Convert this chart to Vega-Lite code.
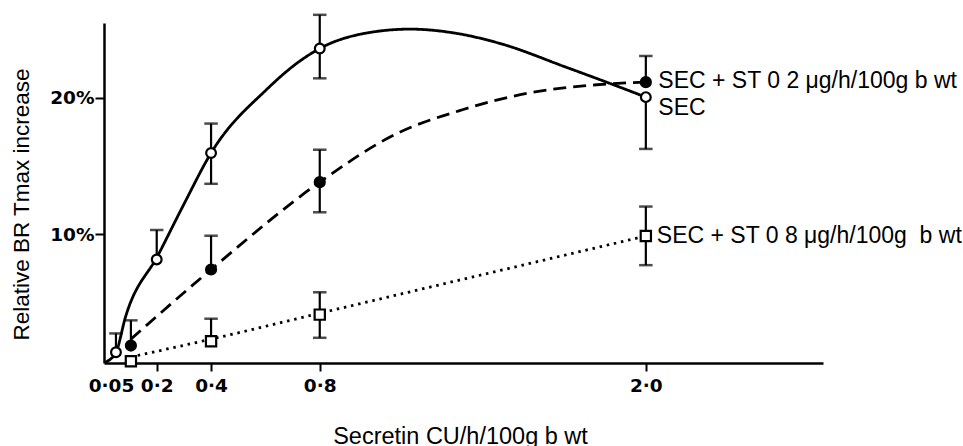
{
  "$schema": "https://vega.github.io/schema/vega-lite/v6.json",
  "width": 719,
  "height": 340,
  "padding": {"left": 104, "top": 23, "right": 140, "bottom": 83},
  "autosize": {"type": "none"},
  "background": "white",
  "config": {
    "view": {"stroke": null},
    "font": "Liberation Sans",
    "axis": {"grid": false, "domainColor": "black", "tickColor": "black", "labelColor": "black", "titleColor": "black", "labelFont": "DejaVu Sans", "titleFont": "Liberation Sans"}
  },
  "datasets": {
    "curves": [
      {"series": "SEC", "dose": 0.01, "value": 0.6},
      {"series": "SEC", "dose": 0.05, "value": 1.34},
      {"series": "SEC", "dose": 0.085, "value": 3.92},
      {"series": "SEC", "dose": 0.206, "value": 8.5},
      {"series": "SEC", "dose": 0.3, "value": 12.2},
      {"series": "SEC", "dose": 0.4, "value": 15.96},
      {"series": "SEC", "dose": 0.605, "value": 20.63},
      {"series": "SEC", "dose": 0.727, "value": 22.71},
      {"series": "SEC", "dose": 0.8, "value": 23.63},
      {"series": "SEC", "dose": 0.95, "value": 24.68},
      {"series": "SEC", "dose": 1.132, "value": 25.05},
      {"series": "SEC", "dose": 1.3, "value": 24.75},
      {"series": "SEC", "dose": 1.463, "value": 24.0},
      {"series": "SEC", "dose": 1.71, "value": 22.23},
      {"series": "SEC", "dose": 1.894, "value": 20.87},
      {"series": "SEC", "dose": 2.0, "value": 20.06},
      {"series": "ST02", "dose": 0.105, "value": 2.3},
      {"series": "ST02", "dose": 0.4, "value": 7.41},
      {"series": "ST02", "dose": 0.8, "value": 13.82},
      {"series": "ST02", "dose": 1.083, "value": 17.38},
      {"series": "ST02", "dose": 1.328, "value": 19.15},
      {"series": "ST02", "dose": 1.574, "value": 20.38},
      {"series": "ST02", "dose": 1.819, "value": 20.97},
      {"series": "ST02", "dose": 2.0, "value": 21.16},
      {"series": "ST08", "dose": 0.13, "value": 1.1},
      {"series": "ST08", "dose": 0.4, "value": 2.3},
      {"series": "ST08", "dose": 0.8, "value": 4.2},
      {"series": "ST08", "dose": 2.0, "value": 9.87}
    ],
    "points": [
      {"series": "SEC", "dose": 0.05, "value": 1.34, "hi": 2.72, "lo": null},
      {"series": "SEC", "dose": 0.2, "value": 8.15, "hi": 10.31, "lo": null},
      {"series": "SEC", "dose": 0.4, "value": 15.96, "hi": 18.12, "lo": 13.7},
      {"series": "SEC", "dose": 0.8, "value": 23.63, "hi": 26.1, "lo": 21.44},
      {"series": "SEC", "dose": 2.0, "value": 20.06, "hi": null, "lo": 16.26},
      {"series": "ST02", "dose": 0.105, "value": 1.83, "hi": 3.68, "lo": null},
      {"series": "ST02", "dose": 0.4, "value": 7.41, "hi": 9.89, "lo": null},
      {"series": "ST02", "dose": 0.8, "value": 13.82, "hi": 16.2, "lo": 11.61},
      {"series": "ST02", "dose": 2.0, "value": 21.16, "hi": 23.08, "lo": null},
      {"series": "ST08", "dose": 0.105, "value": 0.68, "hi": null, "lo": null},
      {"series": "ST08", "dose": 0.4, "value": 2.15, "hi": 3.8, "lo": null},
      {"series": "ST08", "dose": 0.8, "value": 4.1, "hi": 5.74, "lo": 2.4},
      {"series": "ST08", "dose": 2.0, "value": 9.87, "hi": 12.03, "lo": 7.73}
    ],
    "labels": [
      {"series": "ST02", "dose": 2.0, "value": 21.16, "label": "SEC + ST 0 2 μg/h/100g b wt"},
      {"series": "SEC", "dose": 2.0, "value": 20.06, "label": "SEC"},
      {"series": "ST08", "dose": 2.0, "value": 9.87, "label": "SEC + ST 0 8 μg/h/100g\u00a0 b wt"}
    ]
  },
  "encoding": {
    "x": {
      "field": "dose", "type": "quantitative",
      "scale": {"domain": [0.006, 2.652], "nice": false, "zero": false},
      "axis": {
        "values": [0.05, 0.2, 0.4, 0.8, 2.0],
        "labelExpr": "datum.value == 0.05 ? '0·05' : replace(format(datum.value, '.1f'), '.', '·')",
        "labelFontSize": 18.5, "labelFontWeight": "bold",
        "labelOverlap": false, "labelFlush": false,
        "labelOffset": {"condition": {"test": "datum.value == 0.05", "value": -5}, "value": 0},
        "tickOpacity": {"condition": {"test": "datum.value == 0.05", "value": 0}, "value": 1},
        "tickSize": 8, "tickWidth": 2, "labelPadding": 5,
        "domainWidth": 2.5,
        "title": "Secretin CU/h/100g b wt",
        "titleFontSize": 23.5, "titleFontWeight": "normal",
        "titleX": 356, "titleY": 80, "titleBaseline": "alphabetic", "titleAlign": "center"
      }
    },
    "y": {
      "field": "value", "type": "quantitative",
      "scale": {"domain": [0.55, 25.5], "nice": false, "zero": false},
      "axis": {
        "values": [10, 20],
        "labelExpr": "datum.value + '%'",
        "labelFontSize": 18.5, "labelFontWeight": "bold",
        "tickSize": 9, "tickWidth": 2, "labelPadding": 1,
        "domainWidth": 2.5,
        "title": "Relative BR Tmax increase",
        "titleFontSize": 22.5, "titleFontWeight": "normal",
        "titleX": -93.7, "titleY": 181, "titleBaseline": "top", "titleAlign": "center", "titleAngle": 270
      }
    }
  },
  "layer": [
    {
      "data": {"name": "curves"},
      "mark": {"type": "line", "interpolate": "monotone", "strokeWidth": 2.8, "color": "black"},
      "encoding": {
        "detail": {"field": "series"},
        "strokeDash": {"field": "series", "type": "nominal", "scale": {"domain": ["SEC", "ST02", "ST08"], "range": [[1, 0], [13, 7], [2.5, 4.8]]}, "legend": null}
      }
    },
    {
      "data": {"name": "points"},
      "mark": {"type": "rule", "strokeWidth": 2.2, "color": "black"},
      "encoding": {"y": {"field": "hi", "type": "quantitative"}, "y2": {"field": "value"}}
    },
    {
      "data": {"name": "points"},
      "mark": {"type": "rule", "strokeWidth": 2.2, "color": "black"},
      "encoding": {"y": {"field": "lo", "type": "quantitative"}, "y2": {"field": "value"}}
    },
    {
      "data": {"name": "points"},
      "mark": {"type": "tick", "orient": "horizontal", "size": 13.5, "thickness": 2.5, "color": "black"},
      "encoding": {"y": {"field": "hi", "type": "quantitative"}}
    },
    {
      "data": {"name": "points"},
      "mark": {"type": "tick", "orient": "horizontal", "size": 13.5, "thickness": 2.5, "color": "black"},
      "encoding": {"y": {"field": "lo", "type": "quantitative"}}
    },
    {
      "data": {"name": "points"},
      "mark": {"type": "point", "filled": true, "stroke": "black", "strokeWidth": 2.2, "opacity": 1},
      "encoding": {
        "fill": {"field": "series", "type": "nominal", "scale": {"domain": ["SEC", "ST02", "ST08"], "range": ["white", "black", "white"]}, "legend": null},
        "shape": {"field": "series", "type": "nominal", "scale": {"domain": ["SEC", "ST02", "ST08"], "range": ["circle", "circle", "square"]}, "legend": null},
        "size": {"field": "series", "type": "nominal", "scale": {"domain": ["SEC", "ST02", "ST08"], "range": [95, 105, 115]}, "legend": null}
      }
    },
    {
      "data": {"name": "labels"},
      "transform": [{"filter": "datum.series == 'ST02'"}],
      "mark": {"type": "text", "align": "left", "baseline": "alphabetic", "dx": 12.5, "dy": 5.6, "fontSize": 23, "font": "Liberation Sans", "color": "black"},
      "encoding": {"text": {"field": "label"}}
    },
    {
      "data": {"name": "labels"},
      "transform": [{"filter": "datum.series == 'SEC'"}],
      "mark": {"type": "text", "align": "left", "baseline": "alphabetic", "dx": 12.5, "dy": 18.3, "fontSize": 23, "font": "Liberation Sans", "color": "black"},
      "encoding": {"text": {"field": "label"}}
    },
    {
      "data": {"name": "labels"},
      "transform": [{"filter": "datum.series == 'ST08'"}],
      "mark": {"type": "text", "align": "left", "baseline": "alphabetic", "dx": 11, "dy": 7.3, "fontSize": 23, "font": "Liberation Sans", "color": "black"},
      "encoding": {"text": {"field": "label"}}
    }
  ]
}
